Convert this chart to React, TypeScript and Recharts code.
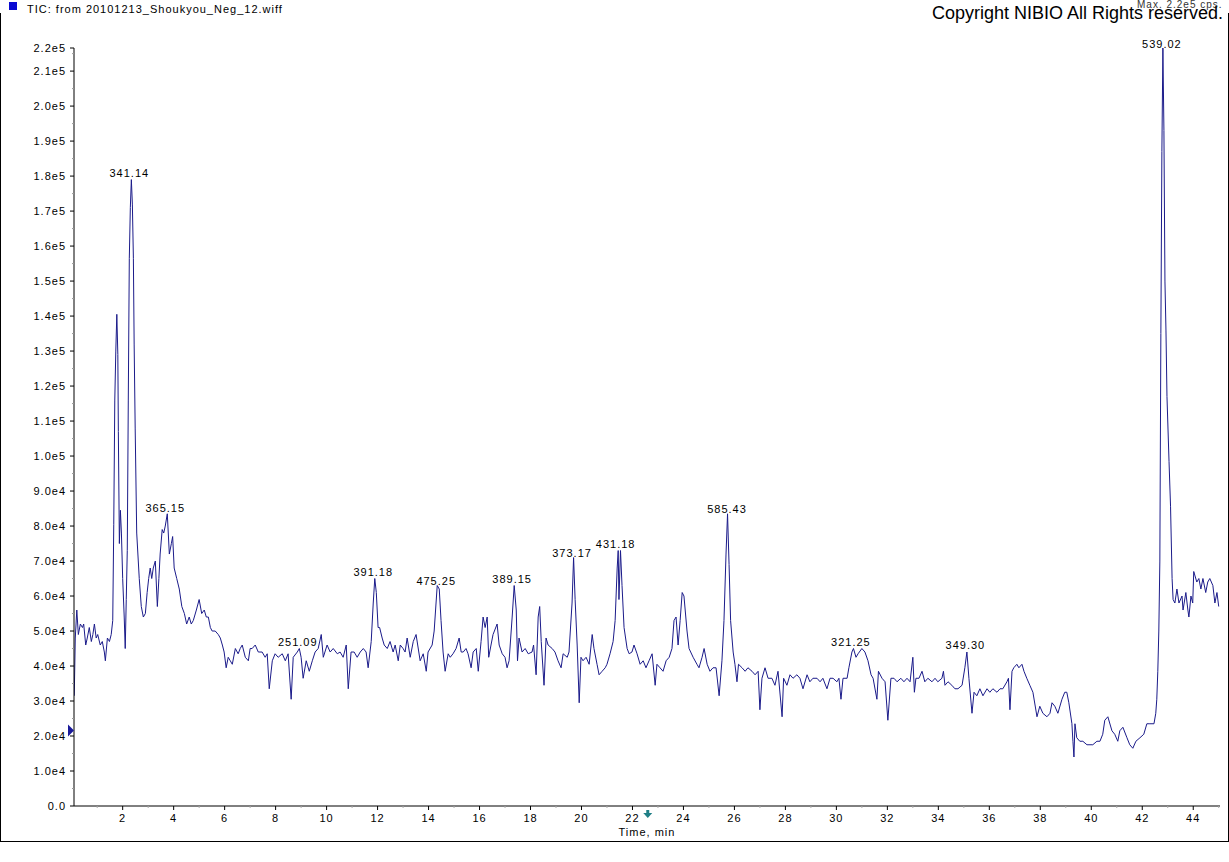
import React from "react";
import { Label, Line, LineChart, ReferenceDot, XAxis, YAxis } from "recharts";

const FONT = "'Liberation Sans', Arial, Helvetica, sans-serif";
const LINE_COLOR = "#1b1b8a";

// retention time, min
const times = [
  0.10, 0.14, 0.20, 0.26, 0.34, 0.42, 0.47, 0.55, 0.61, 0.69, 0.77, 0.83,
  0.89, 0.96, 1.02, 1.12, 1.20, 1.28, 1.32, 1.40, 1.48, 1.55, 1.61, 1.65,
  1.69, 1.73, 1.77, 1.81, 1.83, 1.87, 1.91, 1.95, 2.00, 2.06, 2.10, 2.14,
  2.18, 2.22, 2.26, 2.30, 2.34, 2.38, 2.42, 2.45, 2.49, 2.55, 2.65, 2.73,
  2.81, 2.89, 2.96, 3.02, 3.08, 3.14, 3.20, 3.28, 3.36, 3.42, 3.47, 3.55,
  3.61, 3.67, 3.75, 3.83, 3.91, 3.96, 4.02, 4.12, 4.22, 4.32, 4.42, 4.51,
  4.61, 4.69, 4.77, 4.89, 5.00, 5.10, 5.20, 5.28, 5.36, 5.44, 5.51, 5.63,
  5.75, 5.83, 5.91, 5.98, 6.06, 6.14, 6.22, 6.30, 6.42, 6.53, 6.61, 6.69,
  6.81, 6.93, 7.00, 7.08, 7.20, 7.32, 7.47, 7.59, 7.67, 7.75, 7.87, 7.98,
  8.10, 8.26, 8.38, 8.49, 8.61, 8.69, 8.85, 8.93, 9.00, 9.08, 9.20, 9.32,
  9.44, 9.55, 9.67, 9.79, 9.87, 10.02, 10.14, 10.26, 10.42, 10.53, 10.65, 10.77,
  10.85, 10.96, 11.08, 11.20, 11.32, 11.44, 11.55, 11.63, 11.75, 11.83, 11.89, 11.95,
  12.02, 12.08, 12.18, 12.26, 12.38, 12.49, 12.61, 12.69, 12.81, 12.89, 13.00, 13.08,
  13.16, 13.28, 13.40, 13.51, 13.67, 13.79, 13.91, 13.98, 14.14, 14.22, 14.34, 14.42,
  14.49, 14.57, 14.65, 14.77, 14.85, 14.96, 15.08, 15.20, 15.28, 15.36, 15.47, 15.55,
  15.67, 15.75, 15.87, 15.95, 16.06, 16.14, 16.22, 16.30, 16.36, 16.45, 16.53, 16.69,
  16.77, 16.89, 17.00, 17.08, 17.16, 17.28, 17.36, 17.44, 17.49, 17.55, 17.67, 17.79,
  17.91, 18.06, 18.12, 18.22, 18.30, 18.36, 18.42, 18.53, 18.61, 18.69, 18.85, 18.96,
  19.08, 19.20, 19.28, 19.44, 19.51, 19.63, 19.69, 19.75, 19.83, 19.91, 19.98, 20.06,
  20.18, 20.30, 20.42, 20.49, 20.61, 20.69, 20.81, 20.93, 21.00, 21.12, 21.24, 21.32,
  21.40, 21.44, 21.47, 21.53, 21.59, 21.67, 21.79, 21.87, 21.98, 22.06, 22.18, 22.30,
  22.42, 22.53, 22.65, 22.77, 22.89, 22.96, 23.08, 23.20, 23.32, 23.44, 23.55, 23.63,
  23.71, 23.79, 23.87, 23.95, 24.02, 24.14, 24.22, 24.38, 24.53, 24.61, 24.73, 24.81,
  24.93, 25.04, 25.16, 25.28, 25.40, 25.51, 25.59, 25.67, 25.73, 25.79, 25.85, 25.95,
  26.02, 26.10, 26.16, 26.30, 26.42, 26.53, 26.69, 26.81, 26.93, 27.00, 27.08, 27.20,
  27.32, 27.47, 27.59, 27.71, 27.87, 27.93, 28.06, 28.18, 28.30, 28.45, 28.57, 28.69,
  28.85, 28.96, 29.08, 29.24, 29.36, 29.47, 29.63, 29.75, 29.87, 30.02, 30.10, 30.18,
  30.26, 30.42, 30.49, 30.61, 30.67, 30.77, 30.85, 31.00, 31.12, 31.24, 31.36, 31.44,
  31.59, 31.65, 31.79, 31.91, 32.02, 32.14, 32.26, 32.38, 32.53, 32.65, 32.77, 32.89,
  33.00, 33.06, 33.12, 33.24, 33.36, 33.47, 33.59, 33.75, 33.87, 33.98, 34.14, 34.20,
  34.26, 34.38, 34.53, 34.65, 34.77, 34.93, 35.04, 35.12, 35.20, 35.32, 35.40, 35.51,
  35.63, 35.75, 35.91, 36.02, 36.14, 36.30, 36.42, 36.53, 36.69, 36.75, 36.81, 36.89,
  36.96, 37.08, 37.16, 37.28, 37.36, 37.47, 37.59, 37.71, 37.87, 37.98, 38.10, 38.26,
  38.38, 38.46, 38.57, 38.69, 38.85, 38.96, 39.04, 39.12, 39.24, 39.28, 39.32, 39.36,
  39.43, 39.55, 39.67, 39.83, 39.95, 40.06, 40.22, 40.34, 40.45, 40.53, 40.65, 40.81,
  40.92, 41.04, 41.12, 41.24, 41.40, 41.51, 41.63, 41.75, 41.91, 42.06, 42.18, 42.30,
  42.46, 42.53, 42.57, 42.61, 42.65, 42.69, 42.73, 42.77, 42.81, 42.85, 42.89, 42.93,
  42.97, 43.05, 43.11, 43.17, 43.21, 43.28, 43.36, 43.44, 43.56, 43.60, 43.71, 43.79,
  43.83, 43.91, 43.98, 44.02, 44.14, 44.22, 44.30, 44.38, 44.49, 44.57, 44.65, 44.77,
  44.85, 44.93, 45.00,
];

// total ion current, cps
const counts = [
  31500, 48000, 56000, 49000, 52000, 51000, 52000, 46000, 48000, 51000, 47000, 49000,
  52000, 48000, 49000, 46000, 47000, 44000, 41500, 48000, 47000, 49000, 53000, 80500,
  116000, 130000, 140500, 129000, 107000, 75000, 84500, 78000, 65000, 54000, 45000, 59000,
  73000, 116000, 156500, 171000, 179000, 172000, 156500, 132000, 108000, 78000, 65000, 57000,
  54000, 55000, 61000, 65000, 68000, 65000, 68000, 70000, 57000, 65000, 72000, 79000,
  78000, 80000, 83500, 72000, 75000, 77000, 68000, 65000, 62000, 57000, 55000, 52000,
  54000, 52000, 53000, 56000, 59000, 55000, 56000, 54000, 54000, 51000, 50000, 50000,
  49000, 48000, 46000, 44000, 39500, 42500, 41500, 40500, 45000, 43500, 45000, 46000,
  42500, 41500, 45000, 45000, 46000, 44000, 44000, 42500, 43500, 33500, 41500, 43500,
  42500, 43500, 41500, 43500, 30500, 42500, 44000, 45000, 42500, 36500, 41500, 38500,
  41500, 44000, 45000, 49000, 42500, 46000, 44000, 45000, 43500, 44000, 42500, 46000,
  33500, 44000, 44000, 42500, 44000, 45000, 44000, 39500, 47000, 58000, 65000, 61000,
  51000, 51000, 48000, 46000, 45000, 47000, 44000, 46000, 41500, 46000, 45000, 44000,
  48000, 42500, 47000, 49000, 41500, 43500, 38500, 44000, 46000, 50000, 63000, 62000,
  53000, 44000, 38500, 43500, 42500, 43500, 45000, 48000, 44000, 44000, 45000, 43500,
  39500, 44000, 45000, 38500, 47000, 54000, 51000, 54000, 42500, 46000, 49000, 52000,
  46000, 43500, 42500, 39500, 41500, 54000, 63000, 56000, 41500, 48000, 44000, 45000,
  43500, 44000, 46000, 37500, 54000, 57000, 47000, 34500, 48000, 46000, 45000, 44000,
  41500, 39500, 43500, 42500, 44000, 58000, 71000, 59000, 46000, 29500, 42500, 41500,
  42500, 40500, 49000, 45000, 40500, 37500, 38500, 39500, 40500, 43500, 47000, 53000,
  68000, 73000, 59000, 73000, 63000, 51000, 45000, 43500, 44000, 46000, 43500, 40500,
  41500, 39500, 41500, 43500, 34500, 40500, 39500, 38500, 41500, 42500, 45000, 53000,
  54000, 46000, 53000, 61000, 60000, 50000, 45000, 42500, 40500, 39500, 42500, 45000,
  40500, 38500, 39500, 39500, 31500, 41500, 53000, 72000, 83500, 69000, 53000, 44000,
  40500, 35500, 40500, 39500, 38500, 39500, 38500, 37500, 38500, 27500, 36500, 39500,
  36500, 36500, 34500, 38500, 25500, 36500, 34500, 37500, 36500, 37500, 36500, 33500,
  37500, 35500, 36500, 36500, 35500, 36500, 33500, 36500, 36500, 35500, 36500, 30500,
  36500, 36500, 39500, 44000, 45000, 42500, 43500, 45000, 44000, 41500, 37500, 36500,
  30500, 38500, 36500, 35500, 24500, 36500, 36500, 35500, 36500, 35500, 36500, 35500,
  42500, 32500, 36500, 36500, 38500, 35500, 36500, 35500, 36500, 35500, 36500, 38500,
  34500, 35500, 34500, 33500, 33500, 34500, 39500, 44000, 36500, 26500, 32500, 31500,
  33500, 31500, 33500, 32500, 33500, 32500, 33500, 33500, 35500, 36500, 27500, 38500,
  39500, 40500, 39500, 40500, 38500, 36500, 34500, 32500, 25500, 28500, 26500, 25500,
  26500, 29500, 28500, 26500, 30500, 32500, 32500, 29500, 23500, 18500, 14000, 23500,
  19500, 18500, 18500, 17500, 17500, 17500, 18500, 18500, 20500, 24500, 25500, 21500,
  20500, 18500, 21500, 22500, 19500, 17500, 16500, 18500, 19500, 20500, 23500, 23500,
  23500, 26500, 30500, 38500, 50000, 70000, 135000, 187000, 216600, 193000, 150000, 136000,
  117000, 98500, 85500, 65000, 59000, 58000, 62000, 58000, 60000, 56000, 61000, 56000,
  54000, 60000, 58000, 67000, 64000, 65000, 62000, 65000, 61000, 64000, 65000, 63000,
  58000, 61000, 57000,
];

// annotated peaks: base m/z of the spectrum at each apex
const peakTimes = [2.26, 3.67, 8.87, 11.83, 14.3, 17.28, 19.63, 21.34, 25.71, 30.57, 35.06, 42.77];
const peakCounts = [178600, 82900, 44600, 64600, 62000, 62600, 70000, 72600, 82600, 44600, 43700, 215400];
const peakMasses = [
  "341.14", "365.15", "251.09", "391.18", "475.25", "389.15",
  "373.17", "431.18", "585.43", "321.25", "349.30", "539.02",
];

const timeTicks = [
  1, 2, 3, 4, 5, 6, 7, 8, 9, 10, 11, 12, 13, 14, 15, 16, 17, 18, 19, 20, 21, 22, 23,
  24, 25, 26, 27, 28, 29, 30, 31, 32, 33, 34, 35, 36, 37, 38, 39, 40, 41, 42, 43, 44, 45,
];
const countTicks = [
  0, 5000, 10000, 15000, 20000, 25000, 30000, 35000, 40000, 45000, 50000, 55000,
  60000, 65000, 70000, 75000, 80000, 85000, 90000, 95000, 100000, 105000, 110000,
  115000, 120000, 125000, 130000, 135000, 140000, 145000, 150000, 155000, 160000,
  165000, 170000, 175000, 180000, 185000, 190000, 195000, 200000, 205000, 210000,
  215000, 216600,
];
const countMax = 216600;
const timeDomain = [0.09, 45.05];

const startMarkerCount = 21600;
const cursorTime = 22.6;

const table = times.map((time, i) => ({ time, count: counts[i] }));

function formatCount(v: number): string {
  if (v === 0) return "0.0";
  const exp = Math.floor(Math.log10(v) + 1e-9);
  return `${(v / 10 ** exp).toFixed(1)}e${exp}`;
}

function TimeTick(props: any) {
  const { x, y, payload } = props;
  const major = payload.value % 2 === 0;
  const axisY = y - 6;
  return (
    <g>
      <line
        x1={x}
        x2={x}
        y1={axisY}
        y2={axisY + (major ? 4 : 2)}
        stroke={major ? "#000" : "#aaa"}
      />
      {major && (
        <text
          x={x}
          y={y + 10}
          textAnchor="middle"
          fontSize={11}
          fontFamily={FONT}
          letterSpacing={1}
          fill="#000"
        >
          {payload.value}
        </text>
      )}
    </g>
  );
}

function CountTick(props: any) {
  const { x, y, payload } = props;
  const v = payload.value;
  const major = v % 10000 === 0 || v === countMax;
  const axisX = x + 8;
  return (
    <g>
      <line
        x1={axisX - (major ? 4 : 2)}
        x2={axisX}
        y1={y}
        y2={y}
        stroke={major ? "#000" : "#999"}
      />
      {major && (
        <text
          x={x}
          y={y + 4}
          textAnchor="end"
          fontSize={11}
          fontFamily={FONT}
          letterSpacing={1}
          fill="#000"
        >
          {formatCount(v)}
        </text>
      )}
    </g>
  );
}

function StartMarker(props: any) {
  const { cx, cy } = props;
  return (
    <polygon
      points={`${cx - 6},${cy - 6} ${cx},${cy} ${cx - 6},${cy + 6}`}
      fill="#1a1a9a"
    />
  );
}

function CursorMarker(props: any) {
  const { cx, cy } = props;
  return (
    <g fill="#1f7f86">
      <rect x={cx - 1.5} y={cy + 4} width={3} height={3} />
      <polygon points={`${cx - 4.5},${cy + 7} ${cx + 4.5},${cy + 7} ${cx},${cy + 12}`} />
    </g>
  );
}

export default function App() {
  return (
    <div
      style={{
        position: "absolute",
        left: 0,
        top: 0,
        width: 1229,
        height: 862,
        background: "#fff",
        overflow: "hidden",
      }}
    >
      <div
        style={{
          position: "absolute",
          left: 0,
          top: 13,
          width: 1229,
          height: 829,
          borderLeft: "1px solid #000",
          borderRight: "1px solid #000",
          borderBottom: "1px solid #000",
          boxSizing: "border-box",
        }}
      />
      <LineChart
        width={1229}
        height={862}
        data={table}
        margin={{ top: 48, right: 9, bottom: 0, left: 0 }}
      >
        <XAxis
          dataKey="time"
          type="number"
          domain={timeDomain}
          allowDataOverflow
          ticks={timeTicks}
          interval={0}
          height={56}
          stroke="#000"
          tickLine={false}
          tickSize={4}
          tickMargin={2}
          tick={<TimeTick />}
        >
          <Label
            value="Time, min"
            position="insideTop"
            offset={22}
            fill="#000"
            fontSize={11}
            fontFamily={FONT}
            letterSpacing={1}
          />
        </XAxis>
        <YAxis
          type="number"
          domain={[0, countMax]}
          allowDataOverflow
          ticks={countTicks}
          interval={0}
          width={74}
          stroke="#000"
          tickLine={false}
          tickSize={4}
          tickMargin={4}
          tick={<CountTick />}
        />
        <Line
          type="linear"
          dataKey="count"
          stroke={LINE_COLOR}
          strokeWidth={1}
          dot={false}
          activeDot={false}
          isAnimationActive={false}
        />
        {peakTimes.map((t, i) => (
          <ReferenceDot
            key={peakMasses[i]}
            x={t}
            y={peakCounts[i]}
            r={0}
            fill="none"
            stroke="none"
            ifOverflow="visible"
            label={{
              value: peakMasses[i],
              position: "top",
              offset: 4,
              fill: "#000",
              fontSize: 11,
              fontFamily: FONT,
              letterSpacing: 1,
            }}
          />
        ))}
        <ReferenceDot
          x={timeDomain[0]}
          y={startMarkerCount}
          ifOverflow="visible"
          shape={<StartMarker />}
        />
        <ReferenceDot x={cursorTime} y={0} ifOverflow="visible" shape={<CursorMarker />} />
      </LineChart>
      <svg
        width={1229}
        height={30}
        style={{ position: "absolute", left: 0, top: 0, pointerEvents: "none" }}
      >
        <rect x={9} y={2} width={8} height={8} fill="#0a0ad2" />
        <text x={27} y={13} fontSize={11} fontFamily={FONT} letterSpacing={1} fill="#000">
          TIC: from 20101213_Shoukyou_Neg_12.wiff
        </text>
        <text x={1137} y={8} fontSize={10} fontFamily={FONT} letterSpacing={1} fill="#333">
          Max. 2.2e5 cps.
        </text>
        <text x={932} y={19} fontSize={18} fontFamily={FONT} fill="#000">
          Copyright NIBIO All Rights reserved.
        </text>
      </svg>
    </div>
  );
}
